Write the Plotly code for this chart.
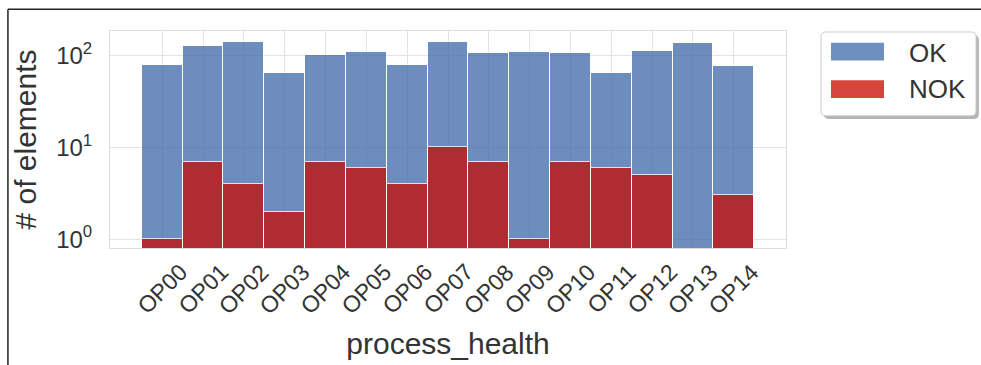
import plotly.graph_objects as go

categories = [f"OP{i:02d}" for i in range(15)]
ok_counts = [80, 129, 143, 65, 101, 110, 80, 143, 107, 109, 107, 65, 114, 137, 78]
nok_counts = [1, 7, 4, 2, 7, 6, 4, 10, 7, 1, 7, 6, 5, 0, 3]
series_names = ["OK", "NOK"]
ytick_vals = [1, 10, 100]
ytick_text = ["10<sup>0</sup>", "10<sup>1</sup>", "10<sup>2</sup>"]

FONT = "Arial, Liberation Sans, sans-serif"
TXT = "#333333"
BAR_COLORS = ["rgb(59,104,168)", "rgb(201,12,4)"]
PATCH_COLORS = ["rgb(110,144,192)", "rgb(214,68,60)"]

PLOT_W, PLOT_H = 676, 220


def rounded_rect(x0, x1, y0, y1, r_px=5):
    """Rounded rectangle path in paper coords (y0 top, y1 bottom)."""
    rx = r_px / PLOT_W
    ry = r_px / PLOT_H
    return (f"M{x0+rx},{y0} L{x1-rx},{y0} Q{x1},{y0} {x1},{y0-ry} "
            f"L{x1},{y1+ry} Q{x1},{y1} {x1-rx},{y1} "
            f"L{x0+rx},{y1} Q{x0},{y1} {x0},{y1+ry} "
            f"L{x0},{y0-ry} Q{x0},{y0} {x0+rx},{y0} Z")


fig = go.Figure()
fig.add_trace(go.Bar(
    x=categories, y=ok_counts, name=series_names[0],
    marker=dict(color=BAR_COLORS[0], line=dict(color="white", width=1)),
    opacity=0.75, width=1.0, showlegend=False,
))
fig.add_trace(go.Bar(
    x=categories, y=[v if v > 0 else None for v in nok_counts], name=series_names[1],
    marker=dict(color=BAR_COLORS[1], line=dict(color="white", width=1)),
    opacity=0.75, width=1.0, showlegend=False,
))

annotations = [
    dict(x=c, y=0, xref="x", yref="paper", text=c, showarrow=False,
         textangle=-45, xanchor="center", yanchor="middle", yshift=-41,
         font=dict(family=FONT, size=23, color=TXT))
    for c in categories
]

shapes = [
    dict(type="line", xref="paper", yref="paper", x0=-0.151, x1=1.3, y0=1.1, y1=1.1,
         line=dict(color="#222222", width=1.5)),
    dict(type="line", xref="paper", yref="paper", x0=-0.151, x1=-0.151, y0=1.1, y1=-0.6,
         line=dict(color="#222222", width=1.5)),
    dict(type="path", xref="paper", yref="paper",
         path=rounded_rect(1.0560, 1.2853, 0.982, 0.595),
         fillcolor="#b4b4b4", line=dict(width=0)),
    dict(type="path", xref="paper", yref="paper",
         path=rounded_rect(1.0518, 1.2811, 0.9955, 0.609),
         fillcolor="white", line=dict(color="#cccccc", width=1)),
]
patch_y = [(0.9455, 0.8636), (0.7727, 0.6909)]
label_y = [0.90, 0.732]
for i, name in enumerate(series_names):
    shapes.append(dict(type="rect", xref="paper", yref="paper", x0=1.0666, x1=1.145,
                       y0=patch_y[i][0], y1=patch_y[i][1],
                       fillcolor=PATCH_COLORS[i], line=dict(width=0)))
    annotations.append(dict(x=1.179, y=label_y[i], xref="paper", yref="paper", text=name,
                            showarrow=False, xanchor="left", yanchor="middle",
                            font=dict(family=FONT, size=26, color=TXT)))

fig.update_layout(
    width=981, height=365,
    margin=dict(l=110, r=195, t=31, b=114),
    paper_bgcolor="white", plot_bgcolor="white",
    barmode="overlay", bargap=0,
    font=dict(family=FONT, color=TXT),
    showlegend=False,
    annotations=annotations,
    shapes=shapes,
)
fig.update_xaxes(
    type="category", range=[-1.28, 15.28],
    showticklabels=False, ticks="",
    showgrid=True, gridcolor="#e3e3e3", gridwidth=1,
    showline=True, linecolor="#dddddd", mirror=True, zeroline=False,
    title=dict(text="process_health", font=dict(family=FONT, size=30, color=TXT), standoff=84),
)
fig.update_yaxes(
    type="log", range=[-0.097, 2.27],
    tickvals=ytick_vals, ticktext=ytick_text, ticks="",
    tickfont=dict(family=FONT, size=24, color=TXT),
    ticklabelstandoff=12,
    showgrid=True, gridcolor="#e3e3e3", gridwidth=1,
    showline=True, linecolor="#dddddd", mirror=True, zeroline=False,
    title=dict(text="# of elements", font=dict(family=FONT, size=30, color=TXT), standoff=10),
)

fig.write_html(
    "out.html",
    config={"displayModeBar": False},
    post_script="document.body.style.margin='0';document.body.style.overflow='hidden';",
)
